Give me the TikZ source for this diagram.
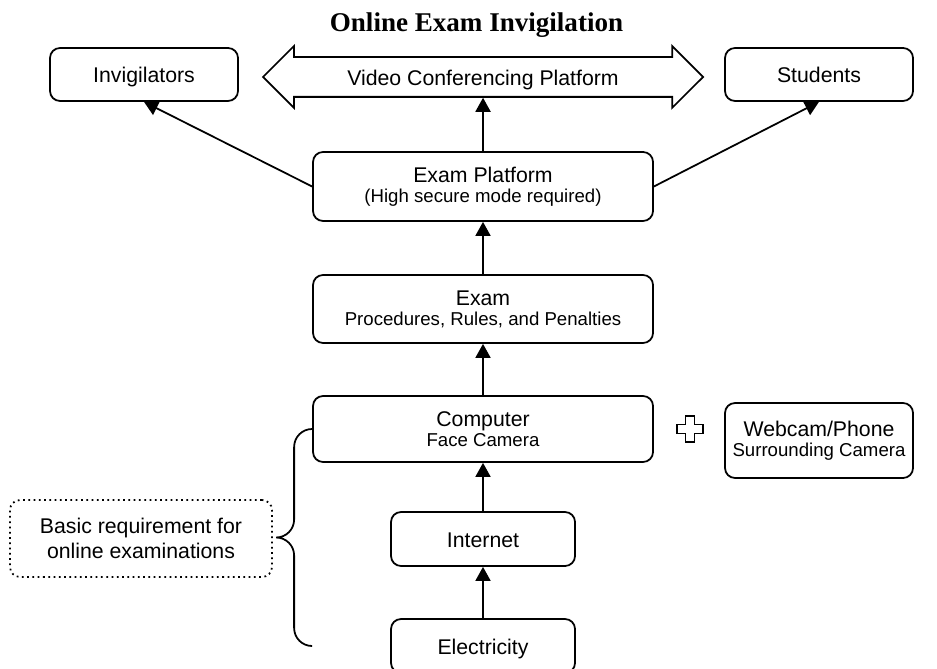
\documentclass[tikz,border=0pt]{standalone}
\usepackage{fontspec}
\setmainfont{Liberation Sans}
\newfontfamily\titlefont{Liberation Serif}
\usetikzlibrary{arrows.meta,shapes.arrows}

\tikzset{
  box/.style={draw, rounded corners=0.2cm, line width=1pt, align=center,
    inner sep=0pt, font=\fontsize{12.1}{11.4}\selectfont},
  one/.style={text height=0.42cm, text depth=0.09cm},
  wide/.style={box, minimum width=6.8cm},
  narrow/.style={box, one, minimum width=3.68cm, minimum height=1.08cm},
  side/.style={box, minimum width=3.76cm},
  note/.style={box, dotted, font=\fontsize{12.1}{14.2}\selectfont},
}
\newcommand{\subline}[1]{{\fontsize{10.6}{11.4}\selectfont #1}}

\begin{document}
\begin{tikzpicture}[>={Triangle[length=0.28cm,width=0.3cm]}, line width=1pt]

\useasboundingbox (0,0) rectangle (18.74,13.36);

\node[font=\titlefont\bfseries\fontsize{15.4}{18}\selectfont] (title) at (9.53,12.86) {Online Exam Invigilation};

\node[side, one, minimum height=1.06cm] (inv) at (2.88,11.87) {Invigilators};
\node[side, one, minimum height=1.06cm] (stu) at (16.38,11.87) {Students};
\node[draw, double arrow, double arrow tip angle=90, double arrow head extend=0.22cm,
  minimum height=8.8cm, one, inner xsep=0pt, inner ysep=0.125cm,
  font=\fontsize{12.1}{14}\selectfont] (vcp) at (9.66,11.82) {Video Conferencing Platform};

\node[wide, minimum height=1.38cm] (plat) at (9.66,9.63) {Exam Platform\\\subline{(High secure mode required)}};
\node[wide, minimum height=1.36cm] (exam) at (9.66,7.18) {Exam\\\subline{Procedures, Rules, and Penalties}};
\node[wide, minimum height=1.32cm] (comp) at (9.66,4.78) {Computer\\\subline{Face Camera}};
\node[narrow] (net) at (9.66,2.58) {Internet};
\node[narrow] (elec) at (9.66,0.44) {Electricity};

\node[side, minimum height=1.5cm] (cam) at (16.38,4.55) {Webcam/Phone\\\subline{Surrounding Camera}};
\node[note, minimum width=5.24cm, minimum height=1.54cm] (req) at (2.82,2.59) {Basic requirement for\\online examinations};

\draw[->] (elec) -- (net);
\draw[->] (net) -- (comp);
\draw[->] (comp) -- (exam);
\draw[->] (exam) -- (plat);
\draw[->] (plat) -- (vcp);
\draw[->] (plat.west) -- (inv.south);
\draw[->] (plat.east) -- (stu.south);

\draw (13.8,4.78) ++(-0.09,0.26) -- ++(0.18,0) -- ++(0,-0.17) -- ++(0.17,0) -- ++(0,-0.18)
  -- ++(-0.17,0) -- ++(0,-0.17) -- ++(-0.18,0) -- ++(0,0.17) -- ++(-0.17,0) -- ++(0,0.18)
  -- ++(0.17,0) -- cycle;

\coordinate (bend) at (comp.west |- elec);
\draw (comp.west) to[out=180,in=90] ++(-0.36,-0.36) -- ++(0,-1.45) to[out=-90,in=0] ++(-0.36,-0.36)
  to[out=0,in=90] ++(0.36,-0.36) -- ++(0,-1.45) to[out=-90,in=180] (bend);

\end{tikzpicture}
\end{document}
